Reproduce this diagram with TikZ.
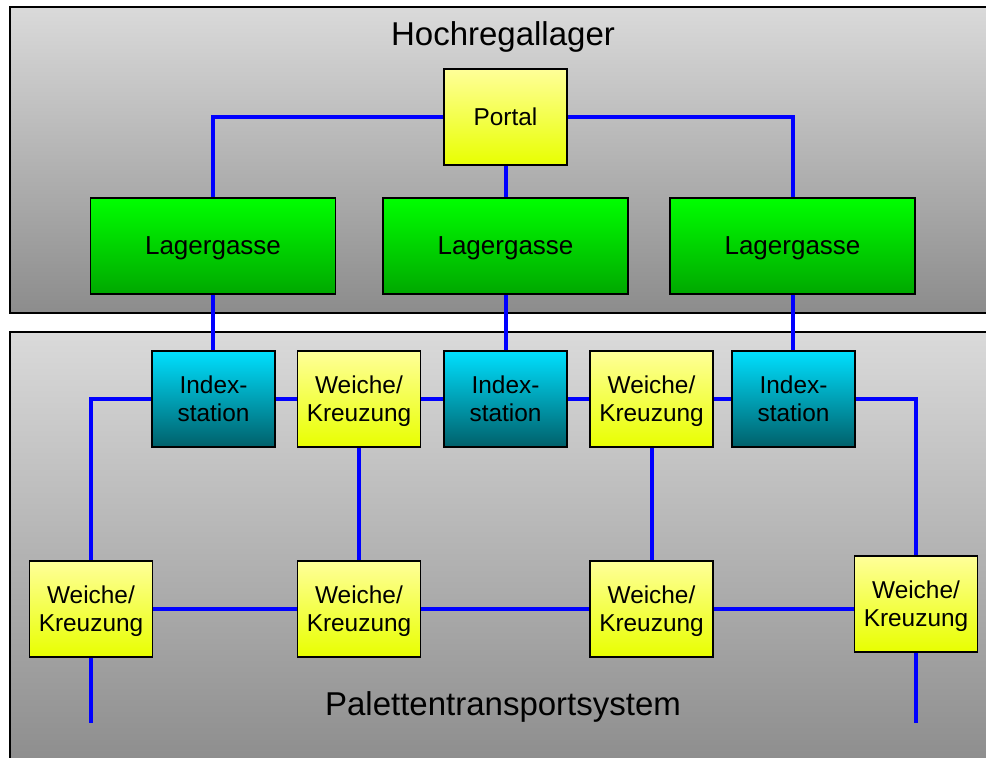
\documentclass[tikz,border=0pt]{standalone}
\usepackage{fontspec}
\setmainfont{Liberation Sans}
\definecolor{gtop}{HTML}{DADADA}
\definecolor{gbot}{HTML}{8C8C8C}
\definecolor{grtop}{HTML}{00FF00}
\definecolor{grbot}{HTML}{00A800}
\definecolor{ytop}{HTML}{FFFF99}
\definecolor{ybot}{HTML}{E8FF00}
\definecolor{ctop}{HTML}{00E0FF}
\definecolor{cbot}{HTML}{00606A}
\definecolor{lineblue}{HTML}{0000FF}
\tikzset{
  area/.style={draw=black, line width=1.6pt, top color=gtop, bottom color=gbot},
  boxbase/.style={draw=black, line width=1.6pt, inner sep=0pt, align=center, text=black, text depth=-0.8pt},
  aisle/.style={boxbase, minimum width=245pt, minimum height=96pt, top color=grtop, bottom color=grbot, font=\fontsize{26}{30}\selectfont},
  yellowbox/.style={boxbase, minimum width=123pt, minimum height=96pt, top color=ytop, bottom color=ybot, font=\fontsize{24.4}{28}\selectfont},
  indexbox/.style={boxbase, minimum width=123pt, minimum height=96pt, top color=ctop, bottom color=cbot, font=\fontsize{24.4}{28}\selectfont},
  title/.style={inner sep=0pt, text=black, font=\fontsize{33}{38}\selectfont},
  conn/.style={draw=lineblue, line width=4pt}
}
\begin{document}
\begin{tikzpicture}[x=1pt,y=-1pt]
\useasboundingbox (0,0) rectangle (986,758);
\fill[white] (0,0) rectangle (986,758);
% areas
\path[area] (10,7) rectangle (995,313);
\path[area] (10,332) rectangle (995,770);
\node[title] (t1) at (503,37) {Hochregallager};
\node[title] (t2) at (503,707) {Palettentransportsystem};
% nodes
\node[yellowbox] (portal) at (505.5,117) {Portal};
\node[aisle] (lg1) at (213,246) {Lagergasse};
\node[aisle] (lg2) at (505.5,246) {Lagergasse};
\node[aisle] (lg3) at (792.5,246) {Lagergasse};
\node[indexbox] (is1) at (213.5,399) {Index-\\station};
\node[yellowbox] (wk1) at (359,399) {Weiche/\\Kreuzung};
\node[indexbox] (is2) at (505.5,399) {Index-\\station};
\node[yellowbox] (wk2) at (651.5,399) {Weiche/\\Kreuzung};
\node[indexbox] (is3) at (793.5,399) {Index-\\station};
\node[yellowbox] (bl) at (91,609) {Weiche/\\Kreuzung};
\node[yellowbox] (wb2) at (359,609) {Weiche/\\Kreuzung};
\node[yellowbox] (wb3) at (651.5,609) {Weiche/\\Kreuzung};
\node[yellowbox] (br) at (916,604) {Weiche/\\Kreuzung};
\coordinate (endy) at (0,723);
% lines
\draw[conn] (portal.west) -| (lg1.north);
\draw[conn] (portal.east) -| (lg3.north);
\draw[conn] (portal.south) -- (lg2.north);
\draw[conn] (lg1.south) -- (lg1.south |- is1.north);
\draw[conn] (lg2.south) -- (lg2.south |- is2.north);
\draw[conn] (lg3.south) -- (lg3.south |- is3.north);
\draw[conn] (bl.north) |- (is1.west);
\draw[conn] (is1.east) -- (wk1.west);
\draw[conn] (wk1.east) -- (is2.west);
\draw[conn] (is2.east) -- (wk2.west);
\draw[conn] (wk2.east) -- (is3.west);
\draw[conn] (is3.east) -| (br.north);
\draw[conn] (wk1.south) -- (wb2.north);
\draw[conn] (wk2.south) -- (wb3.north);
\draw[conn] (bl.east) -- (wb2.west);
\draw[conn] (wb2.east) -- (wb3.west);
\draw[conn] (wb3.east) -- (wb3.east -| br.west);
\draw[conn] (bl.south) -- (bl.south |- endy);
\draw[conn] (br.south) -- (br.south |- endy);
\end{tikzpicture}
\end{document}
